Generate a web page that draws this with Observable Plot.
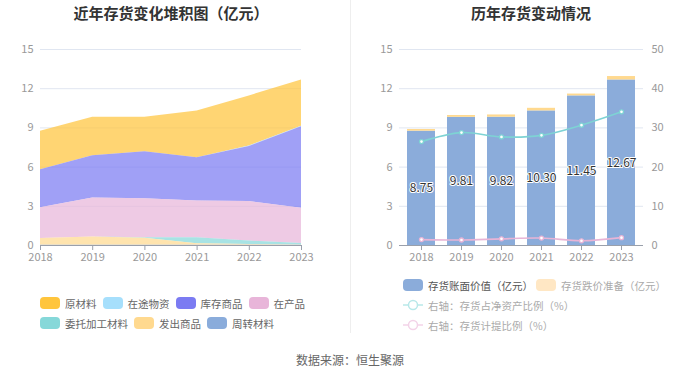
<!DOCTYPE html>
<html>
<head>
<meta charset="utf-8">
<script src="https://cdn.jsdelivr.net/npm/d3@7"></script>
<script src="https://cdn.jsdelivr.net/npm/@observablehq/plot@0.6"></script>
<style>
  html, body { margin: 0; padding: 0; background: #fff; }
  #root { position: relative; width: 700px; height: 378px; overflow: hidden; font-family: "Noto Sans CJK SC", "Noto Sans", sans-serif; background: #fff; }
  .title { position: absolute; top: 2px; font-size: 15px; font-weight: bold; color: #333; white-space: nowrap; transform: translateX(-50%); }
  .divider { position: absolute; left: 350px; top: 0; width: 1px; height: 333px; background: #eeeeee; }
  .chart { position: absolute; top: 40px; }
  .legend { position: absolute; font-size: 10.5px; color: #666; }
  .legend .row { display: flex; align-items: center; height: 20px; white-space: nowrap; }
  .legend .item { display: flex; align-items: center; margin-right: 6px; }
  .legend .sw { width: 20px; height: 12px; border-radius: 4px; margin-right: 5px; }
  .legend .ln { width: 20px; height: 12px; margin-right: 5px; }
  .footer { position: absolute; top: 351px; left: 350px; transform: translateX(-50%); font-size: 12px; color: #666; white-space: nowrap; }
</style>
</head>
<body>
<div id="root">
  <div class="title" style="left:171px">近年存货变化堆积图（亿元）</div>
  <div class="title" style="left:531px">历年存货变动情况</div>
  <div class="divider"></div>
  <div class="chart" id="left" style="left:0px"></div>
  <div class="chart" id="right" style="left:350px"></div>
  <div class="legend" id="legendLeft" style="left:40px; top:293px"></div>
  <div class="legend" id="legendRight" style="left:403px; top:275px"></div>
  <div class="footer">数据来源：恒生聚源</div>
</div>
<script>
// ---------- data ----------
const years = [2018, 2019, 2020, 2021, 2022, 2023];

// left chart: inventory composition (亿元)
const leftSeries = ["原材料", "在途物资", "库存商品", "在产品", "委托加工材料", "发出商品", "周转材料"];
const leftColors = ["#FFC53D", "#A6DFFC", "#7B7BF2", "#E8B5D9", "#86D8D9", "#FFD98F", "#8AACDB"];
const rawMaterial   = [2.96, 2.95, 2.65, 3.59, 3.84, 3.54];
const inTransit     = [0.00, 0.00, 0.00, 0.00, 0.04, 0.05];
const finishedGoods = [2.90, 3.23, 3.59, 3.31, 4.20, 6.22];
const workInProcess = [2.35, 2.98, 2.98, 2.80, 3.03, 2.70];
const consigned     = [0.00, 0.00, 0.05, 0.47, 0.26, 0.12];
const shippedGoods  = [0.53, 0.64, 0.54, 0.12, 0.07, 0.03];
const turnoverMat   = [0.01, 0.01, 0.01, 0.01, 0.01, 0.01];
const leftValues = [rawMaterial, inTransit, finishedGoods, workInProcess, consigned, shippedGoods, turnoverMat];

// right chart
const bookValue = [8.75, 9.81, 9.82, 10.30, 11.45, 12.67];
const provision = [0.13, 0.14, 0.17, 0.20, 0.14, 0.26];
const assetRatio = [26.5, 28.8, 27.7, 28.1, 30.7, 34.1];
const provisionRatio = [1.5, 1.4, 1.7, 1.9, 1.2, 2.0];
const barTypes = ["存货账面价值（亿元）", "存货跌价准备（亿元）"];
const barColors = ["#8BACDA", "#FFD98F"];
const lineNames = ["右轴：存货占净资产比例（%）", "右轴：存货计提比例（%）"];
const lineColors = ["#7ED3D4", "#E8B4D6"];

const yTicks = [0, 3, 6, 9, 12, 15];
const pctTicks = [0, 10, 20, 30, 40, 50];
const pctFactor = 15 / 50;

// ---------- left chart ----------
const leftRows = leftSeries.flatMap((s, i) => years.map((y, j) => ({year: y, series: s, value: leftValues[i][j]})));
const font = '"Noto Sans CJK SC", "Noto Sans", sans-serif';

const left = Plot.plot({
  width: 350, height: 225,
  marginTop: 9, marginBottom: 20, marginLeft: 40, marginRight: 49,
  style: {fontSize: "11px", fontFamily: font, color: "#999", background: "transparent"},
  x: {type: "linear", domain: [2018, 2023]},
  y: {domain: [0, 15]},
  color: {domain: leftSeries, range: leftColors},
  marks: [
    Plot.gridY(yTicks, {stroke: "#E0E6F1", strokeOpacity: 1}),
    Plot.areaY(leftRows, Plot.stackY({x: "year", y: "value", fill: "series", order: leftSeries.slice().reverse(), fillOpacity: 0.72})),
    Plot.ruleY([0], {stroke: "#9aa0ab"}),
    Plot.axisY(yTicks, {tickSize: 0, tickPadding: 7, label: null}),
    Plot.axisX(years, {tickSize: 5, tickPadding: 3, tickFormat: d => String(d), stroke: "#9aa0ab", label: null})
  ]
});
document.getElementById("left").appendChild(left);

// ---------- right chart ----------
const barRows = years.flatMap((y, j) => [
  {year: y, type: barTypes[0], value: bookValue[j]},
  {year: y, type: barTypes[1], value: provision[j]}
]);
const labelRows = years.map((y, j) => ({year: y, value: bookValue[j]}));
const ratioRowsA = years.map((y, j) => ({year: y, v: assetRatio[j]}));
const ratioRowsB = years.map((y, j) => ({year: y, v: provisionRatio[j]}));

const right = Plot.plot({
  width: 350, height: 225,
  marginTop: 9, marginBottom: 20, marginLeft: 49, marginRight: 57,
  style: {fontSize: "11px", fontFamily: font, color: "#999", background: "transparent"},
  x: {type: "band", domain: years, paddingInner: 0.31, paddingOuter: 0.155},
  y: {domain: [0, 15]},
  color: {domain: barTypes, range: barColors},
  marks: [
    Plot.gridY(yTicks, {stroke: "#E0E6F1", strokeOpacity: 1}),
    Plot.barY(barRows, {x: "year", y: "value", fill: "type", order: barTypes}),
    Plot.line(ratioRowsA, {x: "year", y: d => d.v * pctFactor, stroke: lineColors[0], strokeWidth: 1.6, curve: "catmull-rom"}),
    Plot.dot(ratioRowsA, {x: "year", y: d => d.v * pctFactor, r: 2, fill: "white", stroke: lineColors[0], strokeWidth: 1.3}),
    Plot.line(ratioRowsB, {x: "year", y: d => d.v * pctFactor, stroke: lineColors[1], strokeWidth: 1.6, curve: "catmull-rom"}),
    Plot.dot(ratioRowsB, {x: "year", y: d => d.v * pctFactor, r: 2, fill: "white", stroke: lineColors[1], strokeWidth: 1.3}),
    Plot.text(labelRows, {x: "year", y: d => d.value / 2, text: d => d.value.toFixed(2), fill: "#333", stroke: "white", strokeWidth: 2, fontSize: 12}),
    Plot.ruleY([0], {stroke: "#9aa0ab"}),
    Plot.axisY(yTicks, {tickSize: 0, tickPadding: 7, label: null}),
    Plot.axisY(pctTicks.map(d => d * pctFactor), {anchor: "right", tickSize: 0, tickPadding: 8, label: null, tickFormat: d => String(Math.round(d / pctFactor))}),
    Plot.axisX({tickSize: 5, tickPadding: 3, tickFormat: d => String(d), stroke: "#9aa0ab", label: null})
  ]
});
document.getElementById("right").appendChild(right);

// ---------- legends ----------
function swatchItem(label, color, textColor) {
  const it = document.createElement("div");
  it.className = "item";
  const sw = document.createElement("div");
  sw.className = "sw";
  sw.style.background = color;
  const tx = document.createElement("span");
  tx.textContent = label;
  if (textColor) tx.style.color = textColor;
  it.appendChild(sw); it.appendChild(tx);
  return it;
}
function lineItem(label, color, textColor) {
  const it = document.createElement("div");
  it.className = "item";
  const svg = document.createElementNS("http://www.w3.org/2000/svg", "svg");
  svg.setAttribute("class", "ln");
  svg.setAttribute("width", 20); svg.setAttribute("height", 12);
  svg.innerHTML = `<line x1="0" y1="6" x2="20" y2="6" stroke="${color}" stroke-width="1.5"/><circle cx="10" cy="6" r="4.5" fill="white" stroke="${color}" stroke-width="1.5"/>`;
  const tx = document.createElement("span");
  tx.textContent = label;
  tx.style.color = textColor;
  it.appendChild(svg); it.appendChild(tx);
  return it;
}
const legL = document.getElementById("legendLeft");
const leftRowsIdx = [[0, 1, 2, 3], [4, 5, 6]];
leftRowsIdx.forEach(idx => {
  const row = document.createElement("div");
  row.className = "row";
  idx.forEach(i => row.appendChild(swatchItem(leftSeries[i], leftColors[i])));
  legL.appendChild(row);
});

const legR = document.getElementById("legendRight");
const r1 = document.createElement("div"); r1.className = "row";
const first = swatchItem(barTypes[0], barColors[0], "#555");
first.style.marginRight = "3px";
r1.appendChild(first);
r1.appendChild(swatchItem(barTypes[1], "#FFE7C4", "#aaa"));
legR.appendChild(r1);
const r2 = document.createElement("div"); r2.className = "row";
r2.appendChild(lineItem(lineNames[0], "#B8E8E9", "#aaa"));
legR.appendChild(r2);
const r3 = document.createElement("div"); r3.className = "row";
r3.appendChild(lineItem(lineNames[1], "#F3D3E8", "#aaa"));
legR.appendChild(r3);
</script>
</body>
</html>
